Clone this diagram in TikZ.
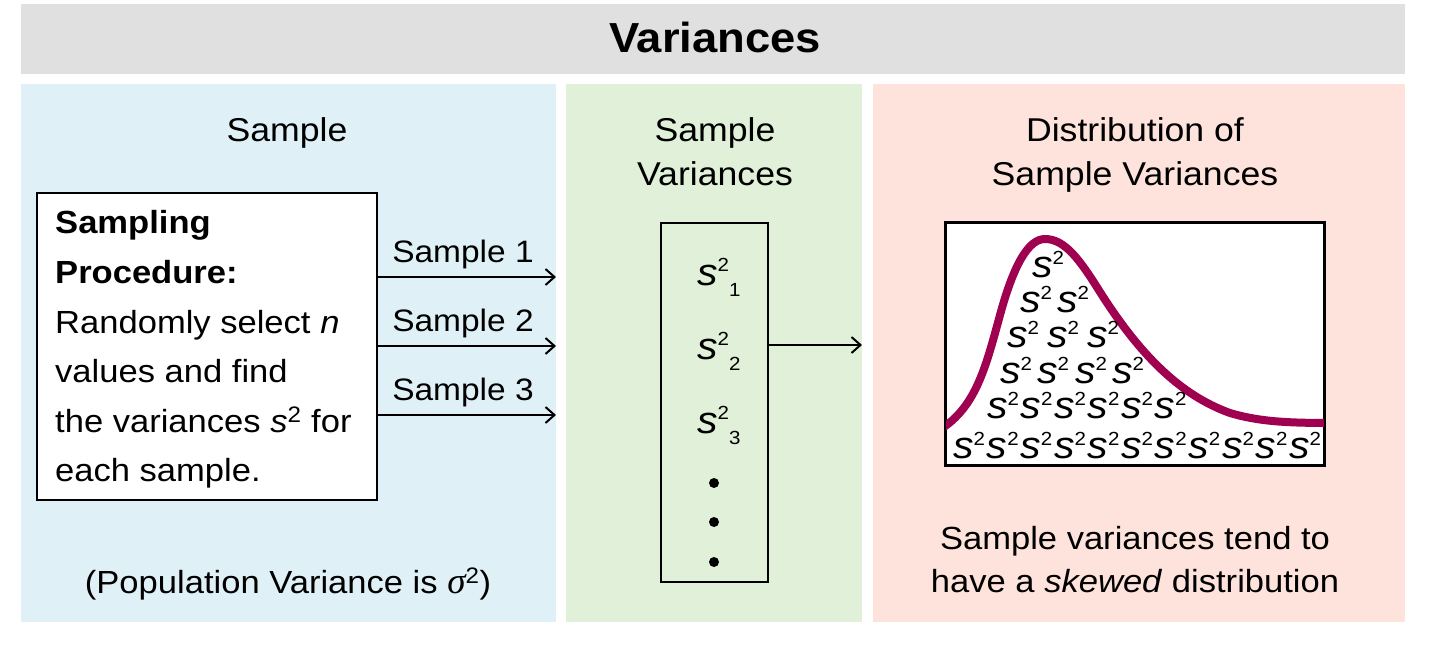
\documentclass[tikz,border=0pt]{standalone}
\usepackage{fontspec}
\setmainfont{Liberation Sans}[FakeStretch=1.08]
\newfontfamily\serifgr{Liberation Serif}
\usetikzlibrary{arrows.meta}
\definecolor{bluebg}{RGB}{223,241,246}
\definecolor{greenbg}{RGB}{225,240,216}
\definecolor{pinkbg}{RGB}{253,227,220}
\definecolor{graybg}{RGB}{224,224,224}
\definecolor{curvecol}{RGB}{160,0,80}
\newcommand{\myfs}[1]{\fontsize{#1}{#1}\selectfont}
\newcommand{\sBig}{{\myfs{38}\itshape s}}
\newcommand{\sSq}{\sBig\raisebox{13pt}{\myfs{19}2}}
\newcommand{\sSub}[1]{\sBig\raisebox{14pt}{\myfs{19}2}\raisebox{-11pt}{\myfs{19}#1}}
\tikzset{
  txt/.style={anchor=base, inner sep=0pt, font=\myfs{32}},
  hdr/.style={anchor=base, inner sep=0pt, font=\myfs{33}},
  boxtxt/.style={anchor=base west, inner sep=0pt, font=\myfs{32}},
  lbl/.style={anchor=base, inner sep=0pt, font=\myfs{31}},
  sq/.style={anchor=base west, inner sep=0pt},
  frame/.style={draw=black, line width=2pt, inner sep=0pt},
  arr/.style={-{Straight Barb[length=9pt,width=16pt]}, line width=2pt},
}
\begin{document}
\begin{tikzpicture}[x=1pt,y=-1pt]
\useasboundingbox (0,0) rectangle (1446,671);
\fill[white] (0,0) rectangle (1446,671);
% title bar and panels
\fill[graybg] (21,4) rectangle (1405,74);
\fill[bluebg] (21,84) rectangle (556,622);
\fill[greenbg] (566,84) rectangle (862,622);
\fill[pinkbg] (873,84) rectangle (1405,622);
\node[anchor=base, inner sep=0pt, font=\myfs{42}\bfseries] (title) at (715,53) {Variances};
% headers
\node[hdr] (h1) at (287,142) {Sample};
\node[hdr] (h2a) at (715,142) {Sample};
\node[hdr] (h2b) at (715,186) {Variances};
\node[hdr] (h3a) at (1135,142) {Distribution of};
\node[hdr] (h3b) at (1135,186) {Sample Variances};
% sampling box
\node[frame, fill=white, minimum width=340pt, minimum height=307pt] (sbox) at (207,346.5) {};
\node[boxtxt] (l1) at (55,234) {\bfseries Sampling};
\node[boxtxt] (l2) at (55,283.5) {\bfseries Procedure:};
\node[boxtxt] (l3) at (55,333) {Randomly select \textit{n}};
\node[boxtxt] (l4) at (55,382.5) {values and find};
\node[boxtxt] (l5) at (55,432) {the variances \textit{s}\textsuperscript{2} for};
\node[boxtxt] (l6) at (55,481.5) {each sample.};
% sample arrows
\coordinate (t1) at (556,277);
\coordinate (t2) at (556,346);
\coordinate (t3) at (556,415);
\draw[arr] (sbox.east |- t1) -- (t1);
\draw[arr] (sbox.east |- t2) -- (t2);
\draw[arr] (sbox.east |- t3) -- (t3);
\node[lbl] (s1) at (463,262) {Sample 1};
\node[lbl] (s2) at (463,331) {Sample 2};
\node[lbl] (s3) at (463,400) {Sample 3};
\node[txt] (pop) at (288,593) {(Population Variance is {\serifgr\itshape\myfs{37}σ}\textsuperscript{2})};
% sample variances box
\node[frame, minimum width=107pt, minimum height=359pt] (vbox) at (714.5,402.5) {};
\node[sq] (v1) at (697,285) {\sSub{1}};
\node[sq] (v2) at (697,359) {\sSub{2}};
\node[sq] (v3) at (697,433) {\sSub{3}};
\fill (714,483) circle (5pt);
\fill (714,522) circle (5pt);
\fill (714,562) circle (5pt);
\coordinate (t4) at (862,345);
\draw[arr] (vbox.east |- t4) -- (t4);
% distribution box
\node[frame, fill=white, minimum width=378pt, minimum height=242pt] (dbox) at (1135,344) {};
\begin{scope}
\clip (dbox.south west) rectangle (dbox.north east);
\draw[curvecol, line width=8pt] (936,432) .. controls (975,410) and (985,370) .. (1000,315)
  .. controls (1015,260) and (1030,239) .. (1045,239)
  .. controls (1065,239) and (1080,260) .. (1100,292)
  .. controls (1140,355) and (1180,395) .. (1230,413)
  .. controls (1260,422) and (1290,423) .. (1334,423);
\end{scope}
\draw[line width=2pt] (dbox.south west) rectangle (dbox.north east);
\node[sq] at (1032,277) {\sSq};
\foreach \x in {1020,1057} \node[sq] at (\x,312) {\sSq};
\foreach \x in {1007,1047,1087} \node[sq] at (\x,347) {\sSq};
\foreach \x in {1000,1037,1075,1112} \node[sq] at (\x,383) {\sSq};
\foreach \i in {0,...,5} \node[sq] at (987+33.5*\i,418) {\sSq};
\foreach \i in {0,...,10} \node[sq] at (953+33.6*\i,458) {\sSq};
\node[txt] (b1) at (1135,549) {Sample variances tend to};
\node[txt] (b2) at (1135,592) {have a \textit{skewed} distribution};
\end{tikzpicture}
\end{document}
